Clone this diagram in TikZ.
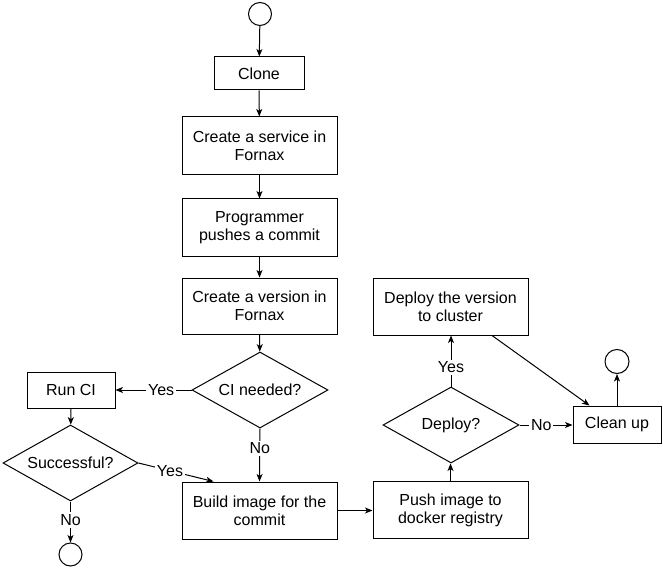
\documentclass[tikz,border=0pt]{standalone}
\usepackage{fontspec}
\setmainfont{Liberation Sans}
\usetikzlibrary{shapes.geometric,arrows.meta,calc}
\begin{document}
\begin{tikzpicture}[x=1pt,y=-1pt,
  font=\fontsize{16}{18}\selectfont,
  box/.style={draw, line width=1pt, align=center, inner sep=0pt, minimum width=155pt, minimum height=57pt},
  smallbox/.style={draw, line width=1pt, align=center, inner sep=0pt, minimum width=88pt, minimum height=36pt},
  decision/.style={draw, line width=1pt, diamond, aspect=1.8, inner sep=0pt, minimum width=136pt, minimum height=76pt},
  term/.style={draw, line width=1pt, circle, inner sep=0pt, minimum size=23pt},
  arr/.style={line width=1pt, -{Stealth[length=7.5pt,width=6pt,inset=2pt]}},
  lbl/.style={fill=white, inner sep=2pt}
]
\useasboundingbox (0,0) rectangle (663,569);

% nodes
\node[term] (start) at (260,14) {};
\node[draw, line width=1pt, align=center, inner sep=0pt, minimum width=90pt, minimum height=33pt] (clone) at (259,73.5) {Clone};
\node[box, minimum height=58pt] (service) at (259.5,146) {Create a service in\\Fornax};
\node[box] (prog) at (259.5,227.5) {Programmer\\pushes a commit};
\node[box, minimum height=56pt] (version) at (259.5,306) {Create a version in\\Fornax};
\node[decision] (ci) at (260,390) {CI needed?};
\node[smallbox] (runci) at (71,390) {Run CI};
\node[decision, minimum width=135pt] (succ) at (70.5,463) {Successful?};
\node[term] (end1) at (70.5,554.5) {};
\node[box] (build) at (259.5,510.5) {Build image for the\\commit};
\node[box] (push) at (450.5,510) {Push image to\\docker registry};
\node[decision] (deploy) at (451,425) {Deploy?};
\node[box] (dv) at (450.5,306.5) {Deploy the version\\to cluster};
\node[smallbox, minimum height=37pt] (clean) at (617,424.5) {Clean up};
\node[term, minimum size=24pt] (end2) at (617,361.5) {};

% connectors
\draw[arr] (start) -- (clone);
\draw[arr] (clone) -- (service);
\draw[arr] (service) -- (prog);
\draw[arr] (prog) -- (version);
\draw[arr] (version) -- (ci);
\draw[arr] (ci.west) -- node[lbl, pos=0.4] {Yes} (runci.east);
\draw[arr] (runci) -- (succ);
\draw[arr] (ci.south) -- node[lbl, pos=0.37] {No} (build.north);
\draw[arr] (succ.east) -- node[lbl, pos=0.42] {Yes} ($(build.north west)+(32,0)$);
\draw[arr] (succ.south) -- node[lbl, pos=0.45] {No} (end1.north);
\draw[arr] (build.east) -- (build.east -| push.west);
\draw[arr] (push.north) -- (push.north |- deploy.south);
\draw[arr] (deploy.north) -- node[lbl, pos=0.38] {Yes} (deploy.north |- dv.south);
\draw[arr] (deploy.east) -- node[lbl, pos=0.41] {No} (deploy.east -| clean.west);
\draw[arr] ($(dv.south)+(41.5,0)$) -- ($(clean.north west)+(17,0)$);
\draw[arr] (clean.north) -- (end2.south);
\end{tikzpicture}
\end{document}
